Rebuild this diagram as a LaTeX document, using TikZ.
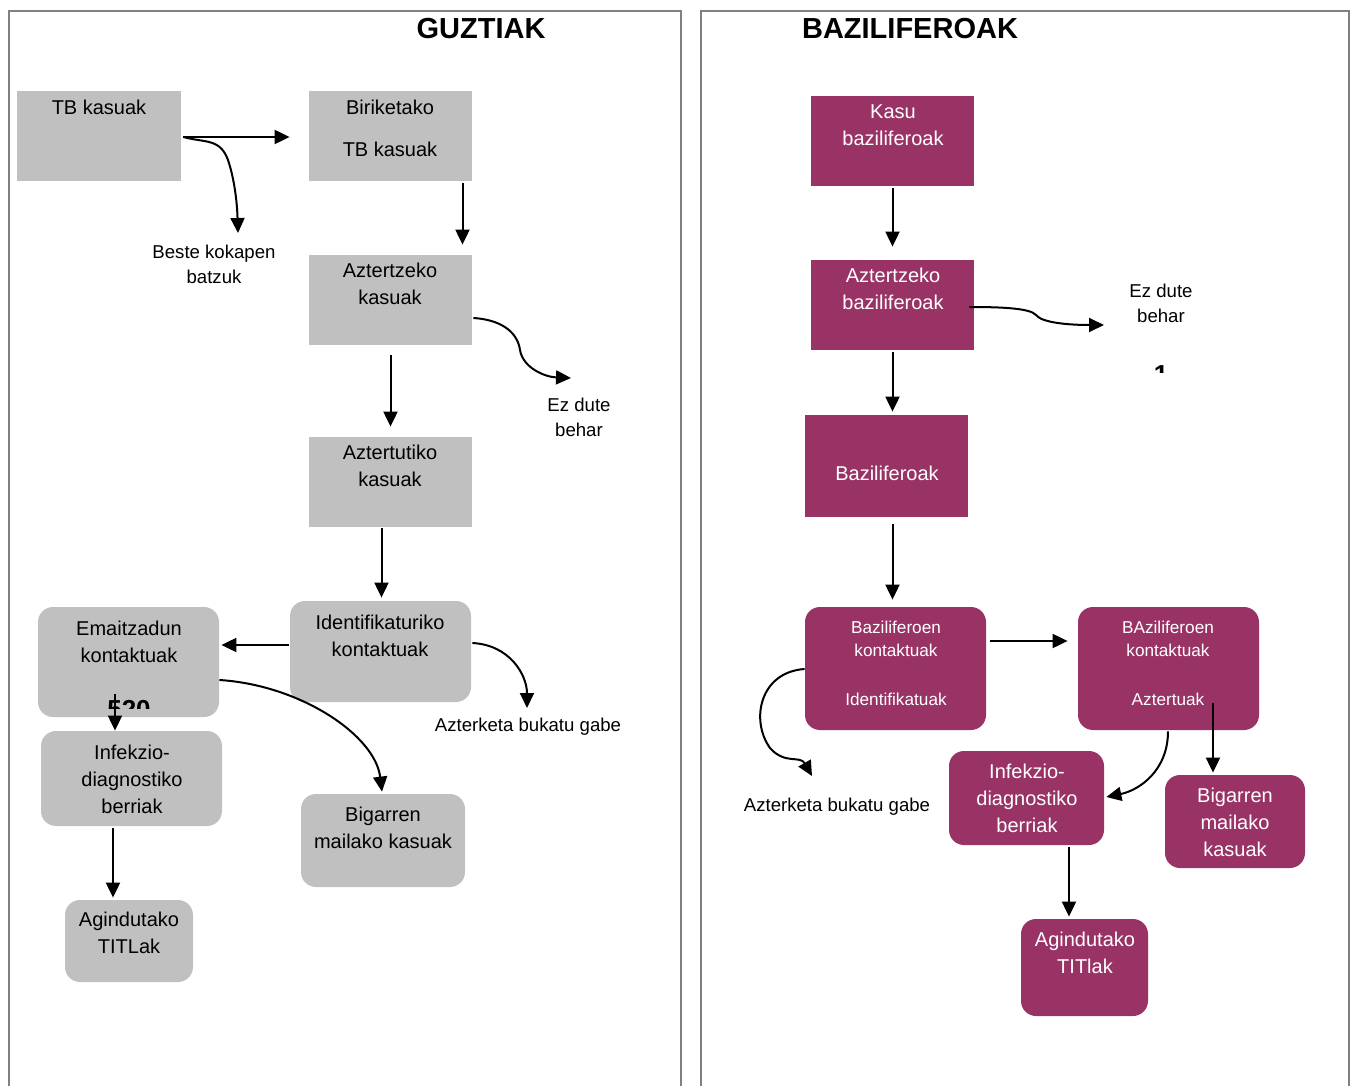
\documentclass[tikz,border=0pt]{standalone}
\usepackage{fontspec}
\setmainfont{Liberation Sans}
\usetikzlibrary{arrows.meta,calc,fit}
\definecolor{boxgray}{RGB}{192,192,192}
\definecolor{bazil}{RGB}{153,51,102}
\definecolor{framegray}{RGB}{128,128,128}
\tikzset{
  gbox/.style={fill=boxgray, draw=none, inner sep=0pt},
  grbox/.style={gbox, rounded corners=7.5pt},
  pbox/.style={fill=bazil, draw=none, inner sep=0pt},
  prbox/.style={pbox, rounded corners=7.5pt},
  txt/.style={inner sep=0pt, align=center, anchor=north, font=\fontsize{10}{13.5}\selectfont},
  wtxt/.style={txt, text=white},
  smallf/.style={font=\fontsize{8.6}{11.5}\selectfont},
  lbl/.style={inner sep=0pt, align=center, anchor=north, font=\fontsize{9.3}{12.2}\selectfont},
  arr/.style={line width=1pt, -{Triangle[length=7.5pt,width=7pt]}},
  panelline/.style={draw=framegray, line width=1pt},
  titlef/.style={inner sep=0pt, font=\fontsize{14.5}{17}\selectfont\bfseries},
  clipnum/.style={inner sep=0pt, anchor=north, font=\fontsize{13}{13}\selectfont\bfseries}
}
\begin{document}
\begin{tikzpicture}[x=0.5pt,y=-0.5pt]
\useasboundingbox (0,0) rectangle (1357,1086);
\fill[white] (0,0) rectangle (1357,1086);
% panels
\draw[panelline] (9,1092) -- (9,11) -- (681,11) -- (681,1092);
\draw[panelline] (701,1092) -- (701,11) -- (1349,11) -- (1349,1092);
\node[titlef] (t1) at (481,29) {GUZTIAK};
\node[titlef] (t2) at (910,29) {BAZILIFEROAK};

% ---------- left ----------
\node[gbox, fit={(17,91)(181,181)}] (tb) {};
\node[txt] (tb-t) at (99,100) {TB kasuak};
\node[gbox, fit={(309,91)(472,181)}] (bir) {};
\node[txt, font=\fontsize{10}{21}\selectfont] (bir-t) at (390,100) {Biriketako\\TB kasuak};
\node[gbox, fit={(309,255)(472,345)}] (azt1) {};
\node[txt] (azt1-t) at (390,263) {Aztertzeko\\kasuak};
\node[gbox, fit={(309,437)(472,527)}] (azt2) {};
\node[txt] (azt2-t) at (390,445) {Aztertutiko\\kasuak};
\node[grbox, fit={(290,601)(471,702)}] (ident) {};
\node[txt] (ident-t) at (380,615) {Identifikaturiko\\kontaktuak};
\node[grbox, fit={(38,607)(219,717)}] (emait) {};
\node[txt] (emait-t) at (129,621) {Emaitzadun\\kontaktuak};
\begin{scope}
  \clip (95,690) rectangle (165,708);
  \node[clipnum] (n520) at (129,700) {520};
\end{scope}
\node[grbox, fit={(41,731)(222,826)}] (infek) {};
\node[txt] (infek-t) at (132,745) {Infekzio-\\diagnostiko\\berriak};
\node[grbox, fit={(301,794)(465,887)}] (bigar) {};
\node[txt] (bigar-t) at (383,807) {Bigarren\\mailako kasuak};
\node[grbox, fit={(65,900)(193,982)}] (agind) {};
\node[txt] (agind-t) at (129,912) {Agindutako\\TITLak};

\node[lbl] (beste) at (214,245) {Beste kokapen\\batzuk};
\node[lbl] (ezdute1) at (579,398) {Ez dute\\behar};
\node[lbl] (azterk1) at (528,717.5) {Azterketa bukatu gabe};

% left connectors
\draw[arr] ($(tb.east)+(2,1)$) -- ($(bir.west)+(-19,1)$);
\draw[arr] ($(tb.east)+(2,1)$) .. controls (205,143) and (220,138) .. (228,160)
   .. controls (234,178) and (237,200) .. ($(beste.north)+(24,-12)$);
\draw[arr] ($(bir.south)+(72,2)$) -- ($(azt1.north)+(72,-10)$);
\draw[arr] ($(azt1.east)+(1,18)$) .. controls (505,320) and (518,335) .. (520,350)
   .. controls (523,368) and (545,377) .. ($(ezdute1.north)+(-8,-20)$);
\draw[arr] ($(azt1.south)+(0,10)$) -- ($(azt2.north)+(0,-10)$);
\draw[arr] ($(azt2.south)+(-9,1)$) -- ($(ident.north)+(1,-3)$);
\draw[arr] ($(ident.west)+(-1,-6.5)$) -- ($(emait.east)+(2,-17)$);
\draw[arr] ($(ident.east)+(1,-8.5)$) .. controls (510,645) and (527,675) .. ($(azterk1.north)+(-1,-9.5)$);
\draw[arr] ($(emait.east)+(0,18)$) .. controls (300,685) and (375,735) .. ($(bigar.north)+(-1,-2)$);
\draw[arr] ($(emait.south)+(-13.5,-23)$) -- ($(infek.north)+(-16.5,0)$);
\draw[arr] ($(infek.south)+(-18.5,2)$) -- ($(agind.north)+(-16,-2)$);

% ---------- right ----------
\node[pbox, fit={(811,96)(974,186)}] (kasu) {};
\node[wtxt] (kasu-t) at (893,104) {Kasu\\baziliferoak};
\node[pbox, fit={(811,260)(974,350)}] (aztb) {};
\node[wtxt] (aztb-t) at (893,268) {Aztertzeko\\baziliferoak};
\node[pbox, fit={(805,415)(968,517)}] (bazb) {};
\node[wtxt, anchor=center] (bazb-t) at (887,473) {Baziliferoak};
\node[prbox, fit={(805,607)(986,730)}] (identb) {};
\node[wtxt, smallf] (identb-t) at (896,621) {Baziliferoen\\kontaktuak\\[13pt]Identifikatuak};
\node[prbox, fit={(1078,607)(1259,730)}] (aztrb) {};
\node[wtxt, smallf] (aztrb-t) at (1168,621) {BAziliferoen\\kontaktuak\\[13pt]Aztertuak};
\node[prbox, fit={(949,751)(1104,845)}] (infekb) {};
\node[wtxt] (infekb-t) at (1027,764) {Infekzio-\\diagnostiko\\berriak};
\node[prbox, fit={(1165,775)(1305,868)}] (bigarb) {};
\node[wtxt] (bigarb-t) at (1235,788) {Bigarren\\mailako\\kasuak};
\node[prbox, fit={(1021,919)(1148,1016)}] (agindb) {};
\node[wtxt] (agindb-t) at (1085,932) {Agindutako\\TITlak};

\node[lbl] (ezdute2) at (1161,284) {Ez dute\\behar};
\begin{scope}
  \clip (1145,360) rectangle (1180,372);
  \node[clipnum] (n1) at (1161,365) {1};
\end{scope}
\node[lbl] (azterk2) at (837,797.5) {Azterketa bukatu gabe};

% right connectors
\draw[arr] ($(kasu.south)+(0,2)$) -- ($(aztb.north)+(0,-13)$);
\draw[arr] ($(aztb.south)+(0,2)$) -- ($(bazb.north)+(6,-3)$);
\draw[arr] ($(bazb.south)+(6,7)$) -- ($(identb.north)+(-3,-7)$);
\draw[arr] ($(aztb.east)+(-5,2)$) .. controls (1000,307) and (1030,308) .. (1036,315)
   .. controls (1042,323) and (1070,325) .. ($(ezdute2.north)+(-57,41)$);
\draw[arr] ($(identb.east)+(4,-27.5)$) -- ($(aztrb.west)+(-10,-27.5)$);
\draw[arr] ($(identb.west)+(0,0.5)$) .. controls (760,672) and (750,720) .. (770,748)
   .. controls (785,765) and (800,755) .. ($(azterk2.north)+(-25,-21.5)$);
\draw[arr] ($(aztrb.south)+(-0.5,1)$) .. controls (1168,770) and (1140,790) .. ($(infekb.east)+(2,-1)$);
\draw[arr] ($(aztrb.south)+(44.5,-27)$) -- ($(bigarb.north)+(-22,-2)$);
\draw[arr] ($(infekb.south)+(42.5,2)$) -- ($(agindb.north)+(-15.5,-2)$);
\end{tikzpicture}
\end{document}
